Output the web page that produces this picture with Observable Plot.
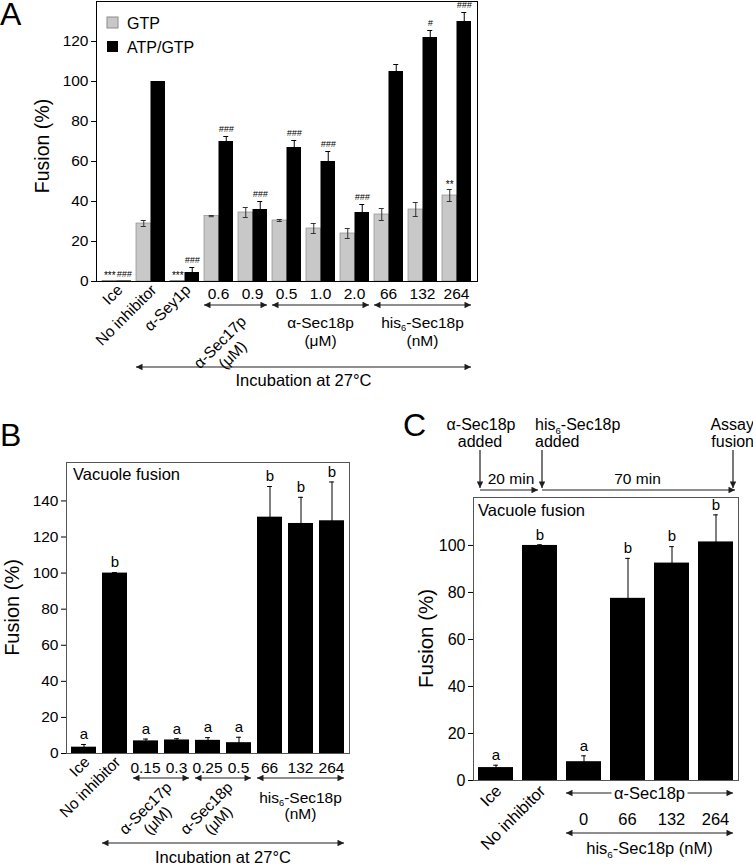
<!DOCTYPE html>
<html><head><meta charset="utf-8">
<script src="https://cdn.jsdelivr.net/npm/d3@7"></script>
<script src="https://cdn.jsdelivr.net/npm/@observablehq/plot@0.6"></script>
<style>
html,body{margin:0;padding:0;background:#fff;}
#fig{position:relative;width:753px;height:864px;overflow:hidden;font-family:'Liberation Sans',Arial,Helvetica,sans-serif;}
.panel{position:absolute;}
.panel svg{overflow:visible;}
</style></head><body><div id="fig"></div>
<script>
// ---------------- Panel A data ----------------
const groupsA = ["Ice","No inhibitor","α-Sey1p","0.6","0.9","0.5","1.0","2.0","66","132","264"];
const gtpA    = [0.3, 29, 0.3, 32.7, 34.5, 30.5, 26.5, 24, 33.5, 36, 43];
const gtpErrA = [0, 1.5, 0, 0.3, 2.5, 0.5, 2.5, 2.5, 3, 3.5, 3];
const gtpSigA = ["***","","***","","","","","","","","**"];
const atpA    = [0.3, 100, 4.5, 70, 36, 67, 60, 34.5, 105, 122, 130];
const atpErrA = [0, 0, 2.5, 2.5, 4, 3.5, 5, 4, 3.5, 3.5, 4.5];
const atpSigA = ["###","","###","###","###","###","###","###","","#","###"];
const rotatedA = ["Ice","No inhibitor","α-Sey1p"];
const seriesA = ["GTP","ATP/GTP"];
const ticksA = [0,20,40,60,80,100,120];

// ---------------- Panel B data ----------------
const groupsB = ["Ice","No inhibitor","0.15","0.3","0.25","0.5","66","132","264"];
const valB    = [3.5, 100, 7, 7.5, 7.3, 6, 131, 127.5, 129];
const errB    = [1.5, 0.3, 1, 0.7, 1.5, 3, 17, 14.5, 21.5];
const letB    = ["a","b","a","a","a","a","b","b","b"];
const rotatedB = ["Ice","No inhibitor"];
const ticksB = [0,20,40,60,80,100,120,140];

// ---------------- Panel C data ----------------
const groupsC = ["Ice","No inhibitor","0","66","132","264"];
const valC    = [5.5, 100, 8, 77.5, 92.5, 101.5];
const errC    = [1, 0.3, 2.5, 17, 7, 11.5];
const letC    = ["a","b","a","b","b","b"];
const rotatedC = ["Ice","No inhibitor"];
const ticksC = [0,20,40,60,80,100];

const FONT = "'Liberation Sans', Arial, Helvetica, sans-serif";
const INK = "#1e1e1e";
const fig = d3.select("#fig");

function panel(left, top, w, h) {
  return fig.append("div").attr("class","panel").style("left",left+"px").style("top",top+"px").style("width",w+"px").style("height",h+"px");
}
function defs(svg, id) {
  svg.append("defs").append("marker").attr("id", id).attr("viewBox","0 0 10 10")
    .attr("refX",10).attr("refY",5).attr("markerWidth",8).attr("markerHeight",6.5)
    .attr("markerUnits","userSpaceOnUse").attr("orient","auto-start-reverse")
    .append("path").attr("d","M0,0L10,5L0,10z").attr("fill",INK);
}
function arrow(g, x1, y1, x2, y2, id, both) {
  g.append("line").attr("x1",x1).attr("y1",y1).attr("x2",x2).attr("y2",y2)
    .attr("stroke",INK).attr("stroke-width",1.2)
    .attr("marker-end",`url(#${id})`).attr("marker-start", both ? `url(#${id})` : null);
}
function text(g, x, y, s, size, anchor) {
  return g.append("text").attr("x",x).attr("y",y).attr("font-size",size)
    .attr("text-anchor",anchor || "middle").attr("fill","#000").text(s);
}
function his6(t, suffix) {
  t.append("tspan").text("his");
  t.append("tspan").attr("dy",3.5).attr("font-size","0.6em").text("6");
  t.append("tspan").attr("dy",-3.5).text("-Sec18p" + suffix);
  return t;
}
function rotLines(g, x, y, lines, size, anchor, lh) {
  const gg = g.append("g").attr("transform",`translate(${x},${y}) rotate(-45)`);
  lines.forEach((l,i) => text(gg, 0, i*lh, l, size, anchor));
}
function bandwidthOf(n, inner, pi, po) {
  const step = inner / (n - pi + 2*po);
  return step * (1 - pi);
}

// =============== PANEL A ===============
{
  const W = 480, H = 400, ML = 96, MR = 3, MT = 1, MB = 119;
  const pi = 0.16, po = 0.1;
  const bw = bandwidthOf(groupsA.length, W-ML-MR, pi, po);
  const data = groupsA.map((g,i) => ({g, gtp: gtpA[i], ge: gtpErrA[i], gs: gtpSigA[i], atp: atpA[i], ae: atpErrA[i], as: atpSigA[i]}));
  const cap = (bw/2 - 5)/2;
  const chart = Plot.plot({
    width: W, height: H, marginLeft: ML, marginRight: MR, marginTop: MT, marginBottom: MB,
    style: {fontFamily: FONT, fontSize: "15.5px", color: "#000", background: "transparent"},
    x: {domain: groupsA, paddingInner: pi, paddingOuter: po, axis: null},
    y: {domain: [0,140], ticks: ticksA, tickSize: 5, tickPadding: 3, label: null},
    marks: [
      Plot.barY(data, {x: "g", y: "gtp", fill: "#c8c8c8", stroke: "#8c8c8c", strokeWidth: 0.7, insetRight: bw/2}),
      Plot.barY(data, {x: "g", y: "atp", fill: "#000", insetLeft: bw/2}),
      Plot.ruleX(data.filter(d => d.ge > 0), {x: "g", y1: d => d.gtp - d.ge, y2: d => d.gtp + d.ge, dx: -bw/4, stroke: "#333", strokeWidth: 1}),
      Plot.tickY(data.filter(d => d.ge > 0), {x: "g", y: d => d.gtp + d.ge, insetLeft: cap, insetRight: bw/2 + cap, stroke: "#333"}),
      Plot.tickY(data.filter(d => d.ge > 0), {x: "g", y: d => d.gtp - d.ge, insetLeft: cap, insetRight: bw/2 + cap, stroke: "#333"}),
      Plot.ruleX(data.filter(d => d.ae > 0), {x: "g", y1: d => d.atp - d.ae, y2: d => d.atp + d.ae, dx: bw/4, stroke: "#000", strokeWidth: 1}),
      Plot.tickY(data.filter(d => d.ae > 0), {x: "g", y: d => d.atp + d.ae, insetLeft: bw/2 + cap, insetRight: cap, stroke: "#000"}),
      Plot.text(data.filter(d => d.gs), {x: "g", y: d => d.gtp + d.ge, text: "gs", dx: -bw/4, dy: -5, fontSize: 10}),
      Plot.text(data.filter(d => d.as), {x: "g", y: d => d.atp + d.ae, text: "as", dx: bw/4, dy: -7, fontSize: 9, fontStyle: "italic"}),
      Plot.frame({stroke: "#000", strokeWidth: 1})
    ]
  });
  panel(0, 0, W, H).node().appendChild(chart);
  const svg = d3.select(chart); defs(svg, "arrA");
  const xs = chart.scale("x"), ys = chart.scale("y");
  const s = g => xs.apply(g), e = g => xs.apply(g) + xs.bandwidth, c = g => xs.apply(g) + xs.bandwidth/2;
  const base = ys.apply(0);
  const g = svg.append("g");
  text(g, 0, 25, "A", 32, "start");
  text(g, 0, 0, "Fusion (%)", 19.5).attr("transform", `translate(49,${(ys.apply(140)+base)/2 + 5}) rotate(-90)`);
  const lx = ML + 11;
  g.append("rect").attr("x",lx).attr("y",17).attr("width",11).attr("height",11).attr("fill","#c8c8c8").attr("stroke","#8c8c8c");
  text(g, lx + 20, 28.5, seriesA[0], 16, "start");
  g.append("rect").attr("x",lx).attr("y",41).attr("width",11).attr("height",11).attr("fill","#000");
  text(g, lx + 20, 52.5, seriesA[1], 16, "start");
  groupsA.forEach(grp => {
    if (rotatedA.includes(grp)) rotLines(g, c(grp) + 7, base + 10, [grp], 15.5, "end", 18);
    else text(g, c(grp), base + 17.5, grp, 15.5);
  });
  const yArr = base + 24;
  arrow(g, s("0.6"), yArr, e("0.9"), yArr, "arrA", true);
  arrow(g, s("0.5"), yArr, e("2.0"), yArr, "arrA", true);
  arrow(g, s("66"), yArr, e("264"), yArr, "arrA", true);
  const cx17 = (s("0.6") + e("0.9"))/2;
  rotLines(g, cx17 - 12, base + 65, ["α-Sec17p","(μM)"], 15.5, "middle", 18);
  text(g, c("1.0"), base + 46.5, "α-Sec18p", 15.5);
  text(g, c("1.0"), base + 64.5, "(μM)", 15.5);
  his6(text(g, c("132"), base + 46.5, "", 15.5), "");
  text(g, c("132"), base + 64.5, "(nM)", 15.5);
  const yL = base + 86;
  arrow(g, s("No inhibitor"), yL, e("264"), yL, "arrA", true);
  text(g, (s("No inhibitor") + e("264"))/2, base + 105, "Incubation at 27°C", 16.5);
}

// =============== PANEL B ===============
{
  const W = 380, H = 444, ML = 66, MR = 31, MT = 42, MB = 111;
  const pi = 0.2, po = 0.1;
  const bw = bandwidthOf(groupsB.length, W-ML-MR, pi, po);
  const data = groupsB.map((g,i) => ({g, v: valB[i], e: errB[i], l: letB[i]}));
  const cap = (bw - 5)/2;
  const chart = Plot.plot({
    width: W, height: H, marginLeft: ML, marginRight: MR, marginTop: MT, marginBottom: MB,
    style: {fontFamily: FONT, fontSize: "15.5px", color: "#000", background: "transparent"},
    x: {domain: groupsB, paddingInner: pi, paddingOuter: po, axis: null},
    y: {domain: [0,161.3], ticks: ticksB, tickSize: 5, tickPadding: 3, label: null},
    marks: [
      Plot.barY(data, {x: "g", y: "v", fill: "#000"}),
      Plot.ruleX(data, {x: "g", y1: d => d.v - d.e, y2: d => d.v + d.e, stroke: "#000", strokeWidth: 1}),
      Plot.tickY(data, {x: "g", y: d => d.v + d.e, insetLeft: cap, insetRight: cap, stroke: "#000"}),
      Plot.text(data, {x: "g", y: d => d.v + d.e, text: "l", dy: -10, fontSize: 15}),
      Plot.frame({stroke: "#555", strokeWidth: 1})
    ]
  });
  panel(0, 420, W, H).node().appendChild(chart);
  const svg = d3.select(chart); defs(svg, "arrB");
  const xs = chart.scale("x"), ys = chart.scale("y");
  const s = g => xs.apply(g), e = g => xs.apply(g) + xs.bandwidth, c = g => xs.apply(g) + xs.bandwidth/2;
  const base = ys.apply(0);
  const g = svg.append("g");
  text(g, 0, 26, "B", 32, "start");
  text(g, 0, 0, "Fusion (%)", 20).attr("transform", `translate(19,${(MT+base)/2}) rotate(-90)`);
  text(g, ML + 7, 60, "Vacuole fusion", 16.5, "start");
  groupsB.forEach(grp => {
    if (rotatedB.includes(grp)) rotLines(g, c(grp) + 7, base + 10, [grp], 15.5, "end", 17);
    else text(g, c(grp), base + 19.5, grp, 15.5);
  });
  const yArr = base + 25;
  arrow(g, s("0.15"), yArr, e("0.3"), yArr, "arrB", true);
  arrow(g, s("0.25"), yArr, e("0.5"), yArr, "arrB", true);
  arrow(g, s("66"), yArr, e("264"), yArr, "arrB", true);
  const cx17 = (s("0.15") + e("0.3"))/2, cx18 = (s("0.25") + e("0.5"))/2;
  rotLines(g, cx17 - 12, yArr + 34, ["α-Sec17p","(μM)"], 15.5, "middle", 17);
  rotLines(g, cx18 - 13, yArr + 34, ["α-Sec18p","(μM)"], 15.5, "middle", 17);
  his6(text(g, c("132"), base + 49.5, "", 15.5), "");
  text(g, c("132"), base + 65.5, "(nM)", 15.5);
  const yL = base + 90;
  arrow(g, s("No inhibitor"), yL, e("264"), yL, "arrB", true);
  text(g, (s("No inhibitor") + e("264"))/2, base + 110, "Incubation at 27°C", 16.5);
}

// =============== PANEL C ===============
{
  const W = 353, H = 459, ML = 73, MR = 15, MT = 92, MB = 84;
  const pi = 0.2, po = 0.1;
  const bw = bandwidthOf(groupsC.length, W-ML-MR, pi, po);
  const data = groupsC.map((g,i) => ({g, v: valC[i], e: errC[i], l: letC[i]}));
  const cap = (bw - 5)/2;
  const chart = Plot.plot({
    width: W, height: H, marginLeft: ML, marginRight: MR, marginTop: MT, marginBottom: MB,
    style: {fontFamily: FONT, fontSize: "16px", color: "#000", background: "transparent"},
    x: {domain: groupsC, paddingInner: pi, paddingOuter: po, axis: null},
    y: {domain: [0,120.4], ticks: ticksC, tickSize: 5, tickPadding: 3, label: null},
    marks: [
      Plot.barY(data, {x: "g", y: "v", fill: "#000"}),
      Plot.ruleX(data, {x: "g", y1: d => d.v - d.e, y2: d => d.v + d.e, stroke: "#000", strokeWidth: 1}),
      Plot.tickY(data, {x: "g", y: d => d.v + d.e, insetLeft: cap, insetRight: cap, stroke: "#000"}),
      Plot.text(data, {x: "g", y: d => d.v + d.e, text: "l", dy: -10, fontSize: 15}),
      Plot.frame({stroke: "#555", strokeWidth: 1})
    ]
  });
  panel(400, 405, W, H).node().appendChild(chart);
  const svg = d3.select(chart); defs(svg, "arrC");
  const xs = chart.scale("x"), ys = chart.scale("y");
  const s = g => xs.apply(g), e = g => xs.apply(g) + xs.bandwidth, c = g => xs.apply(g) + xs.bandwidth/2;
  const base = ys.apply(0);
  const g = svg.append("g");
  text(g, 3, 31, "C", 32, "start");
  text(g, 0, 0, "Fusion (%)", 20.5).attr("transform", `translate(33,${(MT+base)/2}) rotate(-90)`);
  text(g, ML + 5, MT + 19, "Vacuole fusion", 16.5, "start");
  // timeline
  const t0 = s("Ice") + 2, t1 = 142, t2 = e("264");
  text(g, t0 + 1, 25, "α-Sec18p", 16);
  text(g, t0, 42, "added", 16);
  his6(text(g, t1 - 7, 25, "", 16, "start"), "");
  text(g, t1 - 7, 42, "added", 16, "start");
  text(g, W + 1, 25, "Assay", 16, "end");
  text(g, W + 1, 42, "fusion", 16, "end");
  const yT = MT - 7;
  arrow(g, t0, 45, t0, yT - 2, "arrC", false);
  arrow(g, t1, 45, t1, yT - 2, "arrC", false);
  arrow(g, t2, 45, t2, yT - 2, "arrC", false);
  arrow(g, t0, yT, t1 - 4, yT, "arrC", false);
  arrow(g, t1, yT, t2 + 2, yT, "arrC", false);
  text(g, (t0 + t1)/2, yT - 6, "20 min", 15.5);
  text(g, (t1 + t2)/2, yT - 6, "70 min", 15.5);
  groupsC.forEach(grp => {
    if (rotatedC.includes(grp)) rotLines(g, c(grp) + 7, base + 12, [grp], 16.5, "end", 17);
    else text(g, c(grp), base + 45, grp, 16.5);
  });
  const ya = base + 13, xa1 = s("0"), xa2 = e("264"), mid = (xa1 + xa2)/2;
  arrow(g, xa1, ya, xa2, ya, "arrC", true);
  g.append("rect").attr("x", mid - 38).attr("y", ya - 9).attr("width", 76).attr("height", 18).attr("fill", "#fff");
  text(g, mid, ya + 5.5, "α-Sec18p", 16.5);
  const yh = base + 53;
  arrow(g, xa1, yh, xa2, yh, "arrC", true);
  his6(text(g, mid, base + 74, "", 16.5), " (nM)");
}
</script></body></html>
